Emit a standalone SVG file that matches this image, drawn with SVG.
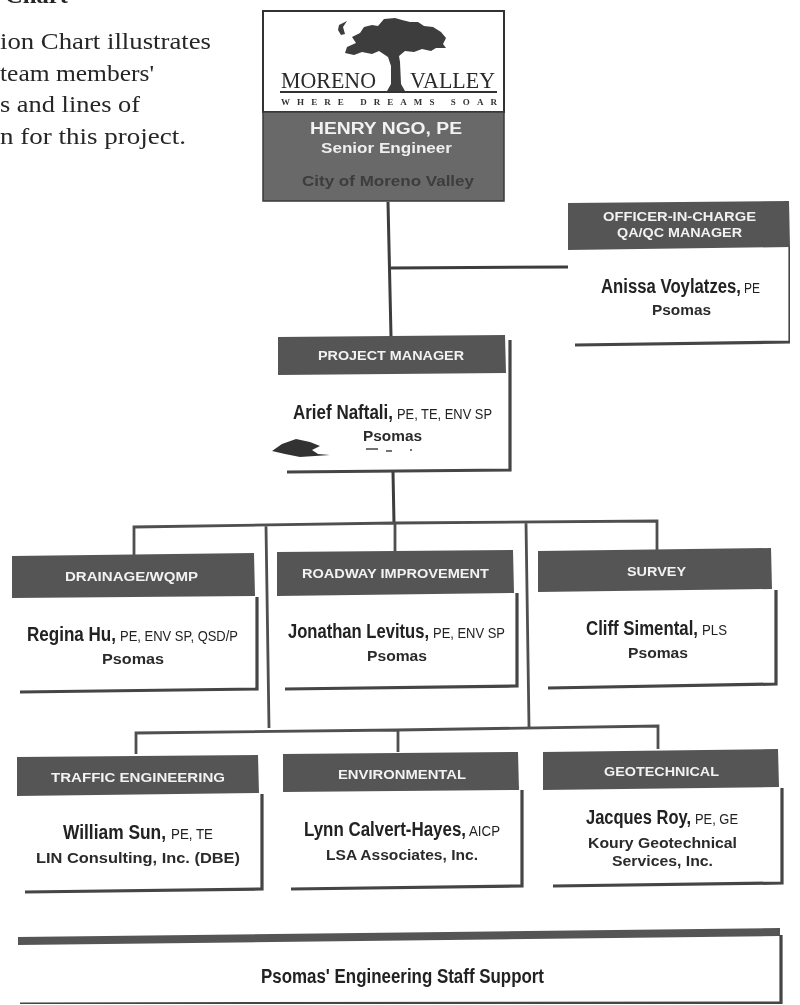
<svg xmlns="http://www.w3.org/2000/svg" width="800" height="1005" viewBox="0 0 800 1005">
<style>
.hd{fill:#565556}
.sh{fill:none;stroke:#454545;stroke-width:3.2}
.cn{fill:none;stroke:#3c3c3c;stroke-width:3}
.cn2{fill:none;stroke:#4f4f4f;stroke-width:2.8}
text{font-family:"Liberation Sans",Arial,sans-serif}
.lb{font-weight:700;font-size:13.5px;fill:#f2f2f2}
.nm{font-weight:700;font-size:20px;fill:#222}
.cr{font-weight:400;font-size:15.5px;fill:#222}
.og{font-weight:700;font-size:14px;fill:#2b2b2b}
.in{font-family:"Liberation Serif",serif;font-size:23px;fill:#262626}
</style>
<defs><filter id="soft" x="0" y="0" width="100%" height="100%"><feGaussianBlur stdDeviation="0.5"/></filter></defs>
<rect width="800" height="1005" fill="#fff"/>
<g filter="url(#soft)">
<g id="intro">
<text class="in" x="5" y="3" textLength="63" lengthAdjust="spacingAndGlyphs" style="font-weight:700">Chart</text>
<text class="in" x="0" y="49" textLength="211" lengthAdjust="spacingAndGlyphs">ion Chart illustrates</text>
<text class="in" x="0" y="81" textLength="154" lengthAdjust="spacingAndGlyphs">team members'</text>
<text class="in" x="0" y="112" textLength="140" lengthAdjust="spacingAndGlyphs">s and lines of</text>
<text class="in" x="0" y="144" textLength="186" lengthAdjust="spacingAndGlyphs">n for this project.</text>
</g>
<g id="connectors">
<path class="cn" d="M388 202L391 336M391 268L568 267M393 472L394 523"/>
<path class="cn2" d="M134 592V527L395 523L657 521V585M395 523V588M266 526L269 728M526 522L529 727M136 754V733L397 730L658 726V749M398 730V752"/>
</g>
<g id="client">
<rect x="263" y="11" width="241" height="101" fill="#fff" stroke="#333" stroke-width="2"/>
<rect x="263" y="112" width="241" height="89" fill="#6a696a" stroke="#3a3a3a" stroke-width="1.5"/>
<path d="M345 53L347 47L356 43L352 37L360 33L364 27L372 25L378 26L384 19L395 18L402 20L410 22L418 22L424 26L433 27L441 32L446 38L443 44L446 48L436 48L431 51L422 49L414 52L405 51L399 56L400 62L401 84L405 91H387L391 84L391 66L388 57L379 51L372 54L362 52L354 55Z" fill="#3d3c3c"/>
<path d="M339 25L347 21L343 27L345 34L341 35L338 30Z" fill="#3d3c3c"/>
<text x="281" y="88" font-size="24" textLength="95" lengthAdjust="spacingAndGlyphs" style="font-family:'Liberation Serif',serif" fill="#2a2a2a">MORENO</text>
<text x="410" y="88" font-size="24" textLength="85" lengthAdjust="spacingAndGlyphs" style="font-family:'Liberation Serif',serif" fill="#2a2a2a">VALLEY</text>
<path d="M280 92H497" stroke="#333" stroke-width="2"/>
<text x="281" y="105" font-size="9" font-weight="700" textLength="216" fill="#333" style="font-family:'Liberation Serif',serif">WHERE DREAMS SOAR</text>
<text x="310" y="134" font-size="16" font-weight="700" fill="#f2f2f2" textLength="152" lengthAdjust="spacingAndGlyphs">HENRY NGO, PE</text>
<text x="321" y="153" font-size="14" font-weight="700" fill="#eee" textLength="131" lengthAdjust="spacingAndGlyphs">Senior Engineer</text>
<text x="302" y="186" font-size="15" font-weight="700" fill="#3c3c3c" textLength="172" lengthAdjust="spacingAndGlyphs">City of Moreno Valley</text>
</g>
<g id="officer">
<polygon class="hd" points="568,203 789,201 790,247 568,250"/>
<path class="sh" d="M575 345L790 342V247"/>
<text class="lb" x="603" y="221" textLength="153" lengthAdjust="spacingAndGlyphs">OFFICER-IN-CHARGE</text>
<text class="lb" x="617" y="237" textLength="125" lengthAdjust="spacingAndGlyphs">QA/QC MANAGER</text>
<text class="nm" x="601" y="293" textLength="140" lengthAdjust="spacingAndGlyphs">Anissa Voylatzes,</text>
<text class="cr" x="744" y="293" textLength="16" lengthAdjust="spacingAndGlyphs">PE</text>
<text class="og" x="652" y="315" textLength="59" lengthAdjust="spacingAndGlyphs">Psomas</text>
</g>
<g id="pm">
<polygon class="hd" points="278,337 505,335 506,373 278,375"/>
<path class="sh" d="M287 472L510 470V340"/>
<text class="lb" x="318" y="360" textLength="146" lengthAdjust="spacingAndGlyphs">PROJECT MANAGER</text>
<text class="nm" x="293" y="419" textLength="100" lengthAdjust="spacingAndGlyphs">Arief Naftali,</text>
<text class="cr" x="397" y="419" textLength="95" lengthAdjust="spacingAndGlyphs">PE, TE, ENV SP</text>
<text class="og" x="363" y="441" textLength="59" lengthAdjust="spacingAndGlyphs">Psomas</text>
<path d="M272 451L282 444L296 439L310 442L320 446L312 450L318 454L330 455L300 457L285 454Z" fill="#333"/>
<path d="M366 449H378M386 451H392M410 450H412" stroke="#444" stroke-width="1.5"/>
</g>
<g id="drainage">
<polygon class="hd" points="12,556 254,553 255,596 12,598"/>
<path class="sh" d="M20 692L257 689V597"/>
<text class="lb" x="65" y="581" textLength="133" lengthAdjust="spacingAndGlyphs">DRAINAGE/WQMP</text>
<text class="nm" x="27" y="641" textLength="89" lengthAdjust="spacingAndGlyphs">Regina Hu,</text>
<text class="cr" x="120" y="641" textLength="118" lengthAdjust="spacingAndGlyphs">PE, ENV SP, QSD/P</text>
<text class="og" x="102" y="664" textLength="62" lengthAdjust="spacingAndGlyphs">Psomas</text>
</g>
<g id="roadway">
<polygon class="hd" points="277,552 513,550 514,593 277,596"/>
<path class="sh" d="M285 689L517 686V593"/>
<text class="lb" x="302" y="578" textLength="187" lengthAdjust="spacingAndGlyphs">ROADWAY IMPROVEMENT</text>
<text class="nm" x="288" y="638" textLength="141" lengthAdjust="spacingAndGlyphs">Jonathan Levitus,</text>
<text class="cr" x="433" y="638" textLength="72" lengthAdjust="spacingAndGlyphs">PE, ENV SP</text>
<text class="og" x="367" y="661" textLength="60" lengthAdjust="spacingAndGlyphs">Psomas</text>
</g>
<g id="survey">
<polygon class="hd" points="538,551 771,548 772,589 538,592"/>
<path class="sh" d="M548 688L776 684V590"/>
<text class="lb" x="627" y="576" textLength="59" lengthAdjust="spacingAndGlyphs">SURVEY</text>
<text class="nm" x="586" y="635" textLength="112" lengthAdjust="spacingAndGlyphs">Cliff Simental,</text>
<text class="cr" x="702" y="635" textLength="25" lengthAdjust="spacingAndGlyphs">PLS</text>
<text class="og" x="628" y="658" textLength="60" lengthAdjust="spacingAndGlyphs">Psomas</text>
</g>
<g id="traffic">
<polygon class="hd" points="17,757 258,755 259,793 17,796"/>
<path class="sh" d="M25 892L262 889V794"/>
<text class="lb" x="51" y="782" textLength="174" lengthAdjust="spacingAndGlyphs">TRAFFIC ENGINEERING</text>
<text class="nm" x="63" y="839" textLength="103" lengthAdjust="spacingAndGlyphs">William Sun,</text>
<text class="cr" x="171" y="839" textLength="42" lengthAdjust="spacingAndGlyphs">PE, TE</text>
<text class="og" x="36" y="863" textLength="204" lengthAdjust="spacingAndGlyphs">LIN Consulting, Inc. (DBE)</text>
</g>
<g id="environmental">
<polygon class="hd" points="283,754 518,752 519,790 283,792"/>
<path class="sh" d="M291 889L522 886V790"/>
<text class="lb" x="338" y="779" textLength="128" lengthAdjust="spacingAndGlyphs">ENVIRONMENTAL</text>
<text class="nm" x="304" y="836" textLength="162" lengthAdjust="spacingAndGlyphs">Lynn Calvert-Hayes,</text>
<text class="cr" x="469" y="836" textLength="31" lengthAdjust="spacingAndGlyphs">AICP</text>
<text class="og" x="326" y="860" textLength="152" lengthAdjust="spacingAndGlyphs">LSA Associates, Inc.</text>
</g>
<g id="geotechnical">
<polygon class="hd" points="543,752 778,749 779,787 543,790"/>
<path class="sh" d="M553 886L782 883V788"/>
<text class="lb" x="604" y="776" textLength="115" lengthAdjust="spacingAndGlyphs">GEOTECHNICAL</text>
<text class="nm" x="586" y="824" textLength="105" lengthAdjust="spacingAndGlyphs">Jacques Roy,</text>
<text class="cr" x="695" y="824" textLength="43" lengthAdjust="spacingAndGlyphs">PE, GE</text>
<text class="og" x="588" y="848" textLength="149" lengthAdjust="spacingAndGlyphs">Koury Geotechnical</text>
<text class="og" x="612" y="866" textLength="101" lengthAdjust="spacingAndGlyphs">Services, Inc.</text>
</g>
<g id="staff">
<polygon class="hd" points="18,937 780,928 780,936 18,945"/>
<path class="sh" d="M781 935V1003L20 1004"/>
<text class="nm" x="261" y="983" textLength="283" lengthAdjust="spacingAndGlyphs">Psomas' Engineering Staff Support</text>
</g>
</g>
</svg>
